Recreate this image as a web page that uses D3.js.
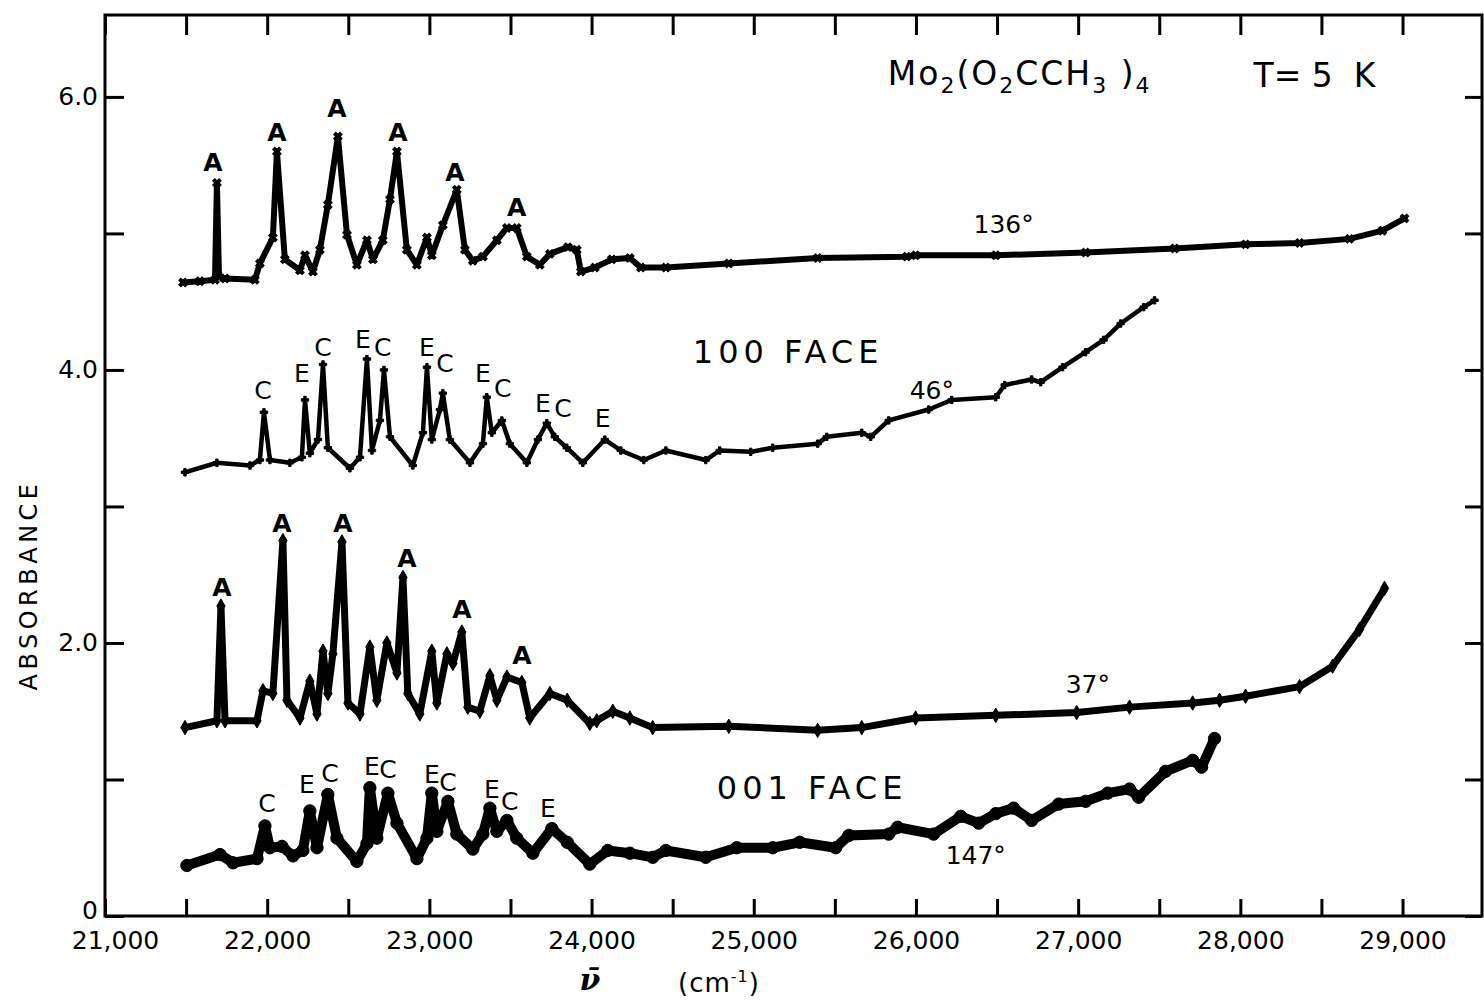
<!DOCTYPE html>
<html><head><meta charset="utf-8">
<script src="https://cdn.jsdelivr.net/npm/d3@7"></script>
<style>
body{margin:0;background:#fff;}
svg text{font-family:"DejaVu Sans","Open Sans",sans-serif;fill:#000;}
</style></head><body>
<svg id="c" width="1484" height="1002"></svg>
<script>
// ---------------- DATA ----------------
const xTickValues = [21000,21500,22000,22500,23000,23500,24000,24500,25000,25500,26000,26500,27000,27500,28000,28500,29000];
const xLabelValues = [21000,22000,23000,24000,25000,26000,27000,28000,29000];
const xLabelTexts  = ["21,000","22,000","23,000","24,000","25,000","26,000","27,000","28,000","29,000"];
const yTickValues = [0,1,2,3,4,5,6];
const yLabelValues = [0,2,4,6];
const yLabelTexts  = ["0","2.0","4.0","6.0"];

// spectra: [wavenumber cm^-1, absorbance]
const spec136 = [[21481,4.64],[21585,4.65],[21678,4.66],[21690,5.37],[21703,4.68],[21740,4.67],[21924,4.66],[21955,4.78],[22035,4.97],[22060,5.60],[22109,4.81],[22202,4.73],[22233,4.84],[22282,4.72],[22325,4.88],[22374,5.21],[22436,5.71],[22492,4.99],[22553,4.77],[22615,4.95],[22652,4.81],[22713,4.95],[22757,5.25],[22800,5.60],[22861,4.88],[22923,4.77],[22985,4.97],[23015,4.84],[23083,5.06],[23169,5.32],[23219,4.88],[23268,4.80],[23330,4.83],[23416,4.95],[23478,5.04],[23539,5.04],[23601,4.83],[23681,4.77],[23743,4.85],[23854,4.90],[23909,4.88],[23934,4.72],[24020,4.75],[24125,4.81],[24236,4.82],[24304,4.75],[24458,4.75],[24846,4.78],[25394,4.82],[25943,4.83],[25998,4.84],[26492,4.84],[27046,4.86],[27595,4.89],[28032,4.92],[28365,4.93],[28673,4.96],[28876,5.02],[29012,5.11]];
const spec46 = [[21493,3.25],[21690,3.32],[21894,3.30],[21955,3.34],[21980,3.69],[22017,3.34],[22140,3.32],[22214,3.36],[22233,3.78],[22263,3.39],[22313,3.49],[22344,4.04],[22374,3.43],[22510,3.28],[22572,3.36],[22615,4.08],[22646,3.41],[22695,3.63],[22720,4.00],[22757,3.51],[22898,3.30],[22960,3.54],[22985,4.02],[23015,3.49],[23065,3.71],[23083,3.83],[23126,3.49],[23250,3.32],[23330,3.46],[23354,3.80],[23385,3.54],[23447,3.63],[23496,3.46],[23601,3.32],[23669,3.49],[23724,3.61],[23773,3.51],[23847,3.43],[23946,3.32],[24082,3.49],[24180,3.41],[24322,3.34],[24458,3.41],[24704,3.34],[24790,3.41],[24981,3.40],[25117,3.43],[25394,3.46],[25450,3.51],[25666,3.54],[25721,3.51],[25832,3.63],[26079,3.71],[26220,3.78],[26492,3.80],[26547,3.89],[26713,3.93],[26769,3.91],[26904,4.02],[27046,4.13],[27157,4.22],[27262,4.34],[27404,4.46],[27471,4.51]];
const spec37 = [[21493,1.38],[21690,1.43],[21715,2.27],[21740,1.43],[21937,1.43],[21974,1.65],[22035,1.63],[22097,2.75],[22122,1.58],[22202,1.45],[22263,1.72],[22307,1.48],[22344,1.94],[22374,1.63],[22405,1.92],[22461,2.74],[22498,1.56],[22572,1.48],[22633,1.97],[22676,1.58],[22738,2.00],[22800,1.78],[22837,2.48],[22867,1.63],[22941,1.48],[23015,1.94],[23046,1.56],[23108,1.92],[23145,1.85],[23200,2.08],[23237,1.53],[23311,1.50],[23373,1.76],[23416,1.58],[23478,1.75],[23570,1.71],[23619,1.45],[23743,1.63],[23850,1.58],[23989,1.41],[24032,1.43],[24131,1.50],[24236,1.45],[24377,1.38],[24846,1.39],[25394,1.36],[25666,1.38],[25998,1.45],[26492,1.47],[26991,1.49],[27317,1.53],[27706,1.56],[27872,1.58],[28032,1.61],[28365,1.68],[28569,1.83],[28735,2.10],[28889,2.40]];
const spec147 = [[21505,0.37],[21709,0.45],[21789,0.39],[21937,0.42],[21986,0.66],[22017,0.50],[22091,0.51],[22159,0.44],[22220,0.48],[22263,0.77],[22307,0.50],[22374,0.89],[22430,0.57],[22553,0.40],[22615,0.53],[22633,0.94],[22676,0.57],[22744,0.90],[22800,0.68],[22923,0.42],[22985,0.57],[23015,0.90],[23046,0.62],[23114,0.84],[23169,0.60],[23268,0.49],[23330,0.60],[23373,0.79],[23416,0.62],[23478,0.70],[23539,0.57],[23638,0.46],[23755,0.64],[23850,0.54],[23989,0.38],[24100,0.48],[24236,0.46],[24377,0.43],[24458,0.48],[24704,0.43],[24895,0.50],[25117,0.50],[25283,0.54],[25505,0.50],[25586,0.59],[25832,0.60],[25887,0.65],[26109,0.60],[26276,0.73],[26387,0.68],[26492,0.75],[26602,0.79],[26713,0.70],[26880,0.82],[27046,0.84],[27182,0.90],[27317,0.93],[27373,0.87],[27539,1.06],[27706,1.14],[27761,1.09],[27841,1.30]];

// peak assignments: [wavenumber, absorbance, letter]
const peaks136 = [[21666,5.52,"A"],[22060,5.74,"A"],[22430,5.92,"A"],[22806,5.74,"A"],[23157,5.45,"A"],[23539,5.19,"A"]];
const peaks46  = [[21974,3.85,"C"],[22214,3.98,"E"],[22344,4.17,"C"],[22590,4.23,"E"],[22713,4.17,"C"],[22985,4.17,"E"],[23096,4.05,"C"],[23330,3.98,"E"],[23453,3.87,"C"],[23700,3.76,"E"],[23823,3.72,"C"],[24069,3.65,"E"]];
const peaks37  = [[21721,2.41,"A"],[22091,2.88,"A"],[22467,2.88,"A"],[22861,2.62,"A"],[23200,2.25,"A"],[23570,1.91,"A"]];
const peaks147 = [[21998,0.83,"C"],[22245,0.97,"E"],[22387,1.05,"C"],[22646,1.10,"E"],[22744,1.08,"C"],[23015,1.04,"E"],[23114,0.98,"C"],[23385,0.93,"E"],[23496,0.84,"C"],[23730,0.79,"E"]];

// ---------------- CHART ----------------
const FONT = '"DejaVu Sans","Open Sans",sans-serif';
const svg = d3.select("#c");
const x = d3.scaleLinear().domain([21000,29490]).range([105,1482]);
const y = d3.scaleLinear().domain([0,6.6]).range([916,15]);

svg.append("rect").attr("x",105).attr("y",15).attr("width",1377).attr("height",901)
  .attr("fill","none").attr("stroke","#000").attr("stroke-width",3);

const xl = new Map(xLabelValues.map((v,i)=>[v,xLabelTexts[i]]));
const yl = new Map(yLabelValues.map((v,i)=>[v,yLabelTexts[i]]));

function styleAxis(g){
  g.select(".domain").remove();
  g.selectAll(".tick line").attr("stroke","#000").attr("stroke-width",3);
  g.selectAll(".tick text").attr("font-size",25).attr("fill","#000").style("font-family",FONT);
}
const gx = svg.append("g").attr("transform",`translate(0,${y(0)})`)
  .call(d3.axisBottom(x).tickValues(xTickValues).tickSize(-17).tickPadding(15).tickFormat(d=>xl.get(d)||""))
  .call(styleAxis);
gx.selectAll(".tick text").filter(d=>d===21000).attr("dx",10);
svg.append("g").attr("transform",`translate(0,${y(6.6)})`)
  .call(d3.axisTop(x).tickValues(xTickValues).tickSize(-20).tickFormat(""))
  .call(styleAxis);
const gy = svg.append("g").attr("transform",`translate(${x(21000)},0)`)
  .call(d3.axisLeft(y).tickValues(yTickValues).tickSize(-19).tickPadding(7).tickFormat(d=>yl.get(d)||""))
  .call(styleAxis);
gy.selectAll(".tick text").filter(d=>d===0).attr("dy","0.1em");
svg.append("g").attr("transform",`translate(${x(29490)},0)`)
  .call(d3.axisRight(y).tickValues(yTickValues).tickSize(-17).tickFormat(""))
  .call(styleAxis);

// spectra
const line = d3.line().x(d=>x(d[0])).y(d=>y(d[1]));
const series = [
  {data:spec136, w:6,   sym:d3.symbolCross, size:45, rot:45},
  {data:spec46,  w:4.5, sym:d3.symbolCross, size:30, rot:0},
  {data:spec37,  w:7,   sym:d3.symbolDiamond, size:60, rot:0},
  {data:spec147, w:10,  sym:d3.symbolCircle, size:120, rot:0}
];
series.forEach(s=>{
  svg.append("path").datum(s.data).attr("d",line).attr("fill","none")
    .attr("stroke","#000").attr("stroke-width",s.w)
    .attr("stroke-linejoin","round").attr("stroke-linecap","round");
  svg.append("g").selectAll("path").data(s.data).join("path")
    .attr("d",d3.symbol(s.sym,s.size))
    .attr("transform",d=>`translate(${x(d[0])},${y(d[1])}) rotate(${s.rot})`)
    .attr("fill","#000").attr("stroke","#000").attr("stroke-width",1);
});

// peak letters
[peaks136,peaks37].forEach(arr=>{
  svg.append("g").selectAll("text").data(arr).join("text")
    .attr("x",d=>x(d[0])).attr("y",d=>y(d[1])).attr("dy","0.36em")
    .attr("text-anchor","middle").attr("font-size",25).attr("font-weight","bold").text(d=>d[2]);
});
[peaks46,peaks147].forEach(arr=>{
  svg.append("g").selectAll("text").data(arr).join("text")
    .attr("x",d=>x(d[0])).attr("y",d=>y(d[1])).attr("dy","0.36em")
    .attr("text-anchor","middle").attr("font-size",25).text(d=>d[2]);
});

// annotations
function label(t, wn, a, fs, ls){
  return svg.append("text").attr("x",x(wn)).attr("y",y(a)).attr("font-size",fs)
    .attr("letter-spacing",ls||0).text(t);
}
label("136°",26355,5.0,25);
label("100 FACE",24624,4.05,32,5);
label("46°",25961,3.79,25);
label("37°",26923,1.635,25);
label("001 FACE",24772,0.858,32,5);
label("147°",26183,0.381,25);

// title
const t1 = svg.append("text").attr("x",x(25826)).attr("y",y(6.09)).attr("font-size",33).attr("letter-spacing",2);
t1.append("tspan").text("Mo");
t1.append("tspan").attr("font-size",22).attr("dy",8).text("2");
t1.append("tspan").attr("dy",-8).text("(O");
t1.append("tspan").attr("font-size",22).attr("dy",8).text("2");
t1.append("tspan").attr("dy",-8).text("CCH");
t1.append("tspan").attr("font-size",22).attr("dy",8).text("3");
t1.append("tspan").attr("dy",-8).text("\u00A0)");
t1.append("tspan").attr("font-size",22).attr("dy",8).text("4");
svg.append("text").attr("x",x(28081)).attr("y",y(6.07)).attr("font-size",33)
  .text("T=\u00A05\u00A0\u00A0K");

// axis titles
svg.append("text").attr("transform","translate(37,585) rotate(-90)")
  .attr("text-anchor","middle").attr("font-size",24).attr("letter-spacing",4.5).text("ABSORBANCE");
svg.append("text").attr("x",590).attr("y",990).attr("text-anchor","middle")
  .attr("font-size",30).attr("font-weight","bold").attr("font-style","italic")
  .style("font-family",'"DejaVu Serif",serif').text("\u03BD\u0304");
const cm = svg.append("text").attr("x",678).attr("y",992).attr("font-size",26).attr("letter-spacing",1);
cm.append("tspan").text("(cm");
cm.append("tspan").attr("font-size",16).attr("dy",-10).text("-1");
cm.append("tspan").attr("dy",10).text(")");
</script>
</body></html>
